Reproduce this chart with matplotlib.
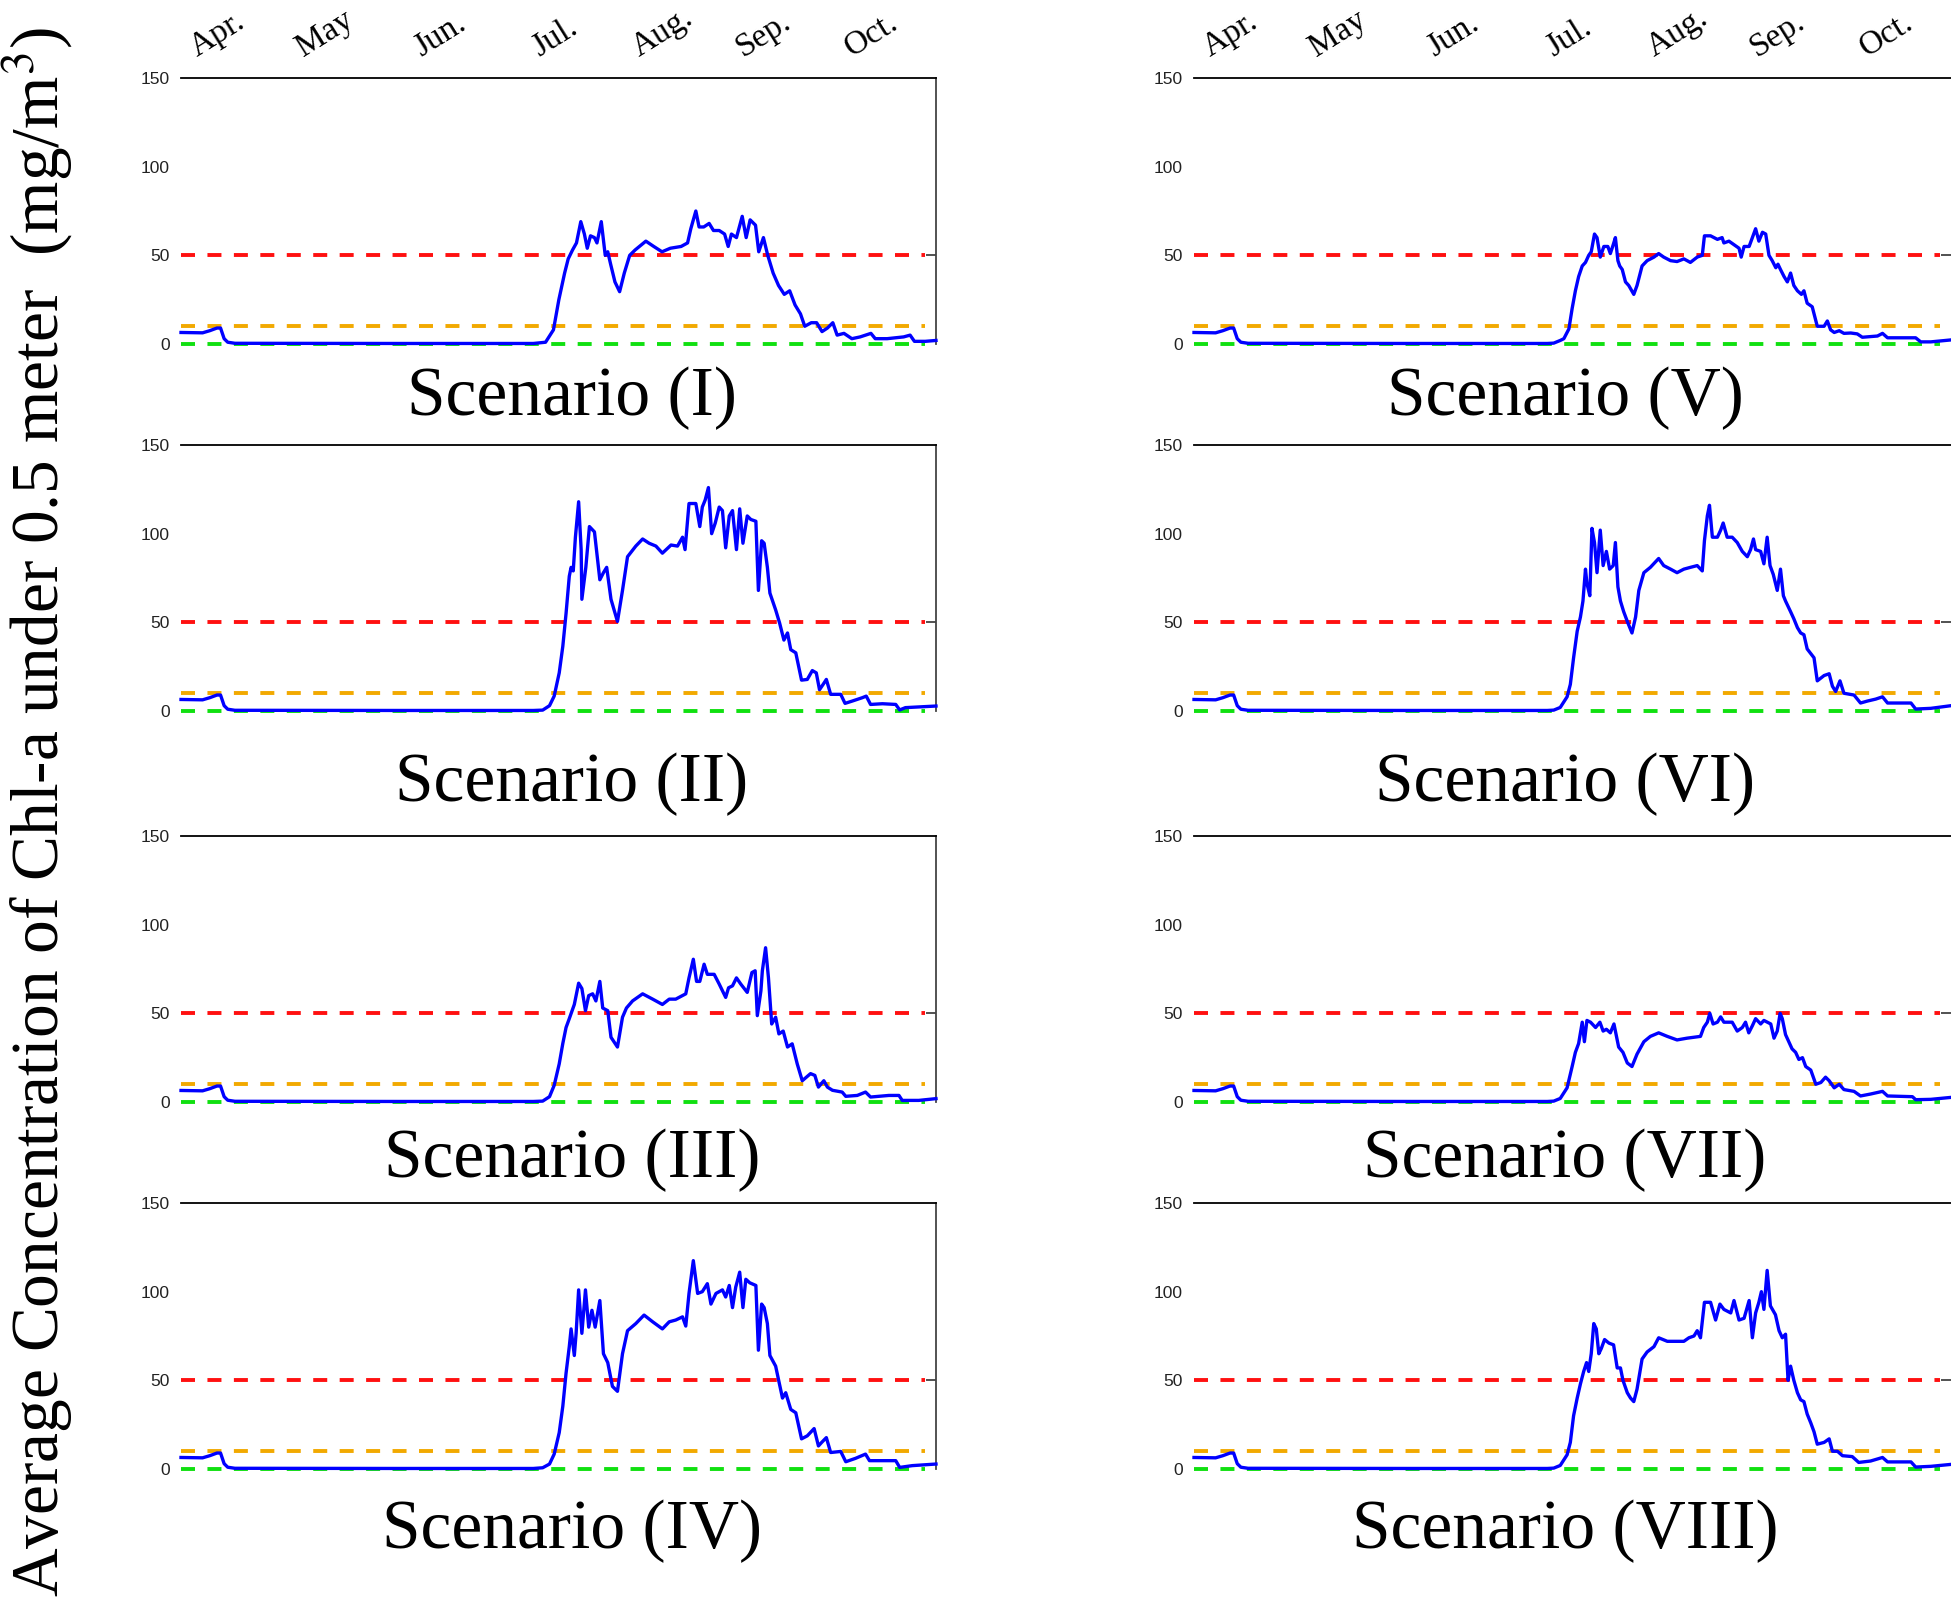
"""Chl-a under 0.5 m for eight scenarios: 4 rows x 2 columns of daily traces."""
import matplotlib
matplotlib.use("Agg")
import matplotlib.pyplot as plt

plt.rcParams["mathtext.fontset"] = "stix"

W, H = 1951, 1616
SERIF = ["Liberation Serif", "DejaVu Serif"]
NARROW = ["Liberation Sans Narrow", "Liberation Sans", "DejaVu Sans"]

months = ["Apr.", "May", "Jun.", "Jul.", "Aug.", "Sep.", "Oct."]
month_pos = [10, 40, 72, 104, 134, 162, 192]          # day index from left edge
y_ticks = [0, 50, 100, 150]
thresholds = [50, 10, 0]
threshold_colors = ["#ff1010", "#f2a900", "#10e010"]
threshold_span = [0, 207]

# spring part shared by every scenario (day, mg/m3)
early = [(0, 6.5), (6, 6.3), (8, 7.5), (10, 9.0), (11, 9.0), (12, 3.0), (13, 1.0),
         (15, 0.4), (60, 0.3), (98, 0.3)]

scen_I = [(101.4, 1), (103.6, 8), (105.1, 25), (106.7, 40), (107.7, 48), (108.9, 53),
          (110.0, 57), (111.2, 69), (112.2, 62), (113.0, 54), (113.9, 61), (115.0, 60),
          (115.7, 57), (116.9, 69), (118.0, 50), (118.7, 52), (119.5, 45), (120.7, 35),
          (122.0, 29.5), (123.3, 40), (124.8, 50), (126.3, 53), (129.3, 58), (131.5, 55),
          (133.8, 52), (136.1, 54), (139.1, 55), (140.9, 57), (141.8, 65), (143.2, 75),
          (144.1, 66), (145.4, 66), (146.9, 68), (148.1, 64), (149.7, 64), (151.2, 62),
          (152.2, 55), (153.1, 62), (154.5, 60), (156.1, 72), (157.2, 60), (158.3, 70),
          (159.8, 67), (160.7, 52), (162.0, 60), (163.2, 50), (164.7, 40), (166.2, 33),
          (167.8, 28), (169.3, 30), (170.8, 22), (172.3, 17), (173.5, 10), (175.3, 12),
          (176.8, 12), (178.3, 7), (179.8, 9), (181.3, 12), (182.5, 5), (184.4, 6),
          (186.6, 3), (188.9, 4), (191.9, 6), (193.1, 3), (196.4, 3), (201.0, 4),
          (202.8, 5), (204.0, 1.5), (207.0, 1.5), (210.0, 2)]

scen_II = [(100.6, 0.5), (102.5, 3), (103.8, 8.4), (105.2, 21.5), (106.2, 36.5), (107.1, 55),
           (108.0, 76), (108.5, 81), (109.1, 79), (109.7, 98), (110.6, 118), (111.3, 91),
           (111.5, 63), (112.6, 81), (113.6, 104), (115.0, 101), (116.5, 74), (117.5, 78),
           (118.4, 81), (119.6, 63), (121.4, 50.5), (122.8, 68), (124.2, 87), (126.5, 93),
           (128.4, 97), (130.2, 94.6), (132.1, 93), (133.9, 89), (136.3, 93.6), (138.1, 93),
           (139.5, 98), (140.2, 91), (141.3, 117), (143.2, 117), (144.3, 104), (145.0, 115),
           (145.8, 119), (146.7, 126), (147.6, 100), (148.6, 106), (149.7, 115), (150.6, 113),
           (151.5, 92), (152.5, 110), (153.4, 113), (154.5, 91), (155.4, 114), (156.3, 94.6),
           (157.5, 110), (158.5, 108), (159.9, 107), (160.6, 68), (161.5, 96), (162.2, 94.6),
           (163.1, 81), (163.8, 66.5), (165.4, 57), (166.5, 49.6), (167.7, 40), (168.7, 44),
           (169.6, 34.6), (171.0, 32.8), (172.6, 17.4), (174.2, 17.8), (175.6, 22.8),
           (176.7, 21.5), (177.6, 12), (178.6, 15), (179.5, 17.8), (180.7, 9.4), (183.5, 9.4),
           (184.7, 4.3), (186.7, 5.6), (189.5, 7.5), (190.6, 8.4), (191.8, 3.7), (195.1, 4.1),
           (198.8, 3.7), (199.9, 0.6), (201.5, 1.9), (210.0, 2.8)]

scen_III = [(100.6, 0.5), (102.5, 3), (103.8, 9.4), (105.2, 21.5), (106.2, 33), (107.1, 42),
            (108.0, 47), (109.4, 55), (110.6, 67), (111.5, 64), (112.5, 51.5), (113.4, 60),
            (114.5, 61), (115.4, 57), (116.5, 68), (117.3, 53), (118.7, 51.5), (119.6, 36.5),
            (121.4, 31), (122.8, 47.8), (123.9, 53), (125.6, 57), (128.4, 61), (131.2, 58),
            (133.9, 55), (135.8, 58), (137.6, 58), (140.4, 61), (141.3, 70), (142.5, 80.5),
            (143.4, 68), (144.3, 68), (145.5, 77.7), (146.4, 72), (148.3, 72), (149.7, 66.5),
            (151.5, 59), (152.3, 64.4), (153.4, 65.5), (154.5, 70), (155.7, 66.5), (157.5, 61.8),
            (158.8, 73), (159.7, 74), (160.3, 48.7), (161.3, 62.7), (161.7, 74), (162.6, 87),
            (163.4, 70), (164.3, 44), (165.4, 47.8), (166.3, 38.4), (167.5, 40), (168.7, 31),
            (170.0, 32.8), (171.4, 21.5), (172.8, 12), (175.1, 16), (176.3, 15), (177.3, 8.4),
            (178.8, 12), (179.8, 8.4), (181.2, 6.6), (183.9, 5.6), (184.9, 3.2), (188.1, 3.7),
            (190.4, 5.6), (191.8, 2.8), (196.9, 3.7), (199.7, 3.7), (200.6, 0.9), (205.2, 0.9),
            (210.0, 1.9)]

scen_IV = [(100.6, 0.7), (102.5, 2.8), (103.8, 8.4), (105.2, 20.5), (106.2, 35.4), (107.1, 54),
           (108.0, 69), (108.5, 79), (109.4, 64), (109.9, 76.5), (110.6, 101), (111.5, 76.5),
           (112.5, 101), (113.4, 80), (114.3, 89.5), (115.2, 80), (116.5, 95), (117.5, 65),
           (118.7, 60), (120.0, 46.6), (121.4, 43.8), (122.8, 65), (124.2, 78), (126.5, 82),
           (128.8, 86.8), (131.2, 83), (133.9, 79), (135.8, 83), (137.6, 84), (139.5, 85.8),
           (140.4, 80.6), (141.3, 99), (142.5, 117.5), (143.7, 99), (145.0, 100), (146.4, 104.5),
           (147.4, 93), (148.8, 99), (150.6, 101), (151.5, 97), (152.5, 103.5), (153.4, 91),
           (154.3, 102.6), (155.4, 111), (156.3, 91), (157.1, 107), (158.2, 105), (159.9, 103.5),
           (160.6, 67), (161.5, 93), (162.2, 91), (163.1, 82), (163.8, 64), (165.4, 58),
           (166.3, 49.4), (167.3, 40), (168.2, 43), (169.6, 33.6), (171.0, 31.7), (172.6, 17),
           (174.2, 18.7), (176.1, 22.8), (177.3, 13), (178.2, 15), (179.5, 17.7), (180.7, 9.3),
           (183.5, 9.9), (184.9, 4.1), (187.6, 6), (190.4, 8.4), (191.5, 4.7), (198.8, 4.7),
           (199.9, 0.9), (203.4, 1.9), (210.0, 2.8)]

scen_V = [(99.8, 0.5), (101.6, 2), (102.6, 3), (104.0, 8.5), (104.9, 20), (105.8, 30),
          (106.7, 38), (107.7, 44), (108.6, 46), (109.5, 50), (110.2, 52), (111.1, 62),
          (111.8, 60), (112.7, 49), (113.7, 55), (114.8, 55), (115.5, 51), (116.3, 56),
          (116.9, 60), (117.6, 47), (118.1, 44), (118.8, 42), (119.7, 35), (120.6, 33),
          (122.0, 28), (122.9, 33), (124.3, 44), (125.7, 47), (127.6, 49), (128.9, 51),
          (130.3, 49), (132.2, 47), (134.0, 46.5), (135.9, 48), (137.7, 46), (139.6, 49),
          (141.0, 50), (141.6, 61), (143.3, 61), (145.2, 59), (146.5, 60), (147.0, 57),
          (148.4, 58), (149.8, 56), (151.2, 54), (151.8, 49), (152.6, 55), (154.0, 55),
          (154.9, 60), (155.8, 65), (156.7, 58), (157.7, 63), (158.6, 62), (159.5, 50),
          (160.4, 47), (161.4, 43), (162.0, 45), (162.7, 42), (163.7, 38), (164.6, 35),
          (165.5, 40), (166.4, 33), (167.4, 30), (168.5, 28), (169.2, 30), (170.1, 23),
          (171.5, 21), (172.9, 10), (174.8, 10), (175.7, 13), (176.6, 8), (177.6, 6.5),
          (179.0, 7.5), (180.3, 6), (182.2, 6.2), (184.0, 5.7), (185.4, 3.8), (189.6, 4.5),
          (191.0, 6), (192.4, 3.5), (200.2, 3.5), (201.6, 1.2), (204.4, 1.2), (210.0, 2.3)]

scen_VI = [(99.8, 0.5), (101.6, 2), (103.5, 8), (104.4, 15), (105.3, 30), (106.3, 45),
           (107.2, 53), (107.9, 62), (108.6, 80), (109.0, 72), (109.8, 65), (110.4, 103),
           (111.1, 95), (111.8, 78), (112.7, 102), (113.5, 82), (114.4, 90), (115.3, 80),
           (116.3, 82), (116.9, 95), (117.6, 70), (118.3, 62), (119.2, 56), (120.3, 50),
           (121.5, 44), (122.5, 53), (123.4, 68), (124.8, 78), (126.6, 81), (128.9, 86),
           (130.3, 82), (132.2, 80), (134.0, 78), (135.9, 80), (137.7, 81), (139.6, 82),
           (141.0, 79), (141.6, 96), (142.4, 110), (143.0, 116), (143.8, 98), (145.2, 98),
           (146.1, 102), (146.8, 106), (147.9, 98), (149.3, 98), (150.7, 95), (152.1, 90),
           (153.5, 87), (154.4, 91), (155.2, 97), (155.8, 91), (157.2, 90), (158.1, 83),
           (159.0, 98), (159.8, 82), (160.7, 77), (161.8, 68), (162.7, 80), (163.5, 65),
           (164.1, 62), (165.5, 56), (166.4, 52), (167.4, 47), (168.3, 44), (169.2, 43),
           (170.1, 35), (172.0, 30), (172.9, 17), (174.8, 20), (176.2, 21), (177.1, 14),
           (178.0, 11), (179.2, 17), (180.3, 10), (183.1, 9), (184.9, 4.5), (186.8, 5.6),
           (189.1, 6.7), (191.0, 8), (192.4, 4.5), (198.9, 4.5), (200.2, 1.1), (204.4, 1.5),
           (210.0, 3)]

scen_VII = [(99.8, 0.5), (101.6, 2), (103.5, 8), (104.9, 20), (105.8, 28), (106.7, 33),
            (107.7, 45), (108.3, 34), (109.0, 46), (110.0, 45), (111.4, 42), (112.6, 45),
            (113.5, 40), (114.4, 41), (115.5, 39), (116.5, 44), (117.2, 37), (117.8, 31),
            (119.0, 28), (120.2, 22), (121.5, 20), (122.9, 27), (124.8, 34), (126.6, 37),
            (128.9, 39), (131.3, 37), (134.0, 35), (136.8, 36), (140.5, 37), (141.4, 42),
            (142.4, 45), (143.1, 50), (144.0, 44), (145.2, 45), (146.1, 48), (147.0, 45),
            (149.3, 45), (150.7, 40), (152.1, 42), (153.0, 45), (153.9, 39), (154.9, 43),
            (155.8, 47), (157.2, 44), (158.1, 46), (160.0, 44), (160.9, 36), (161.8, 40),
            (162.6, 50), (163.2, 47), (164.1, 38), (165.0, 34), (165.9, 30), (166.9, 28),
            (167.8, 24), (168.8, 25), (169.7, 20), (171.1, 18), (172.5, 10), (173.9, 11),
            (175.2, 14), (176.2, 12), (177.6, 8), (179.0, 10), (180.3, 7), (183.1, 6),
            (184.9, 3.4), (187.7, 4.5), (191.0, 6), (192.4, 3.4), (199.3, 3), (200.2, 1.3),
            (204.4, 1.5), (210.0, 2.6)]

scen_VIII = [(99.8, 0.5), (101.6, 2), (103.5, 8), (104.4, 15), (105.3, 30), (106.3, 40),
             (107.2, 48), (108.1, 55), (108.9, 60), (109.5, 55), (110.2, 65), (110.9, 82),
             (111.6, 79), (112.3, 65), (113.0, 68), (113.9, 73), (115.1, 71), (116.4, 70),
             (117.4, 57), (118.3, 57), (119.0, 50), (120.2, 43), (121.1, 40), (122.0, 38),
             (122.9, 45), (124.3, 62), (125.7, 66), (127.6, 69), (128.9, 74), (131.3, 72),
             (134.0, 72), (135.9, 72), (137.3, 74), (138.7, 75), (139.6, 78), (140.5, 74),
             (141.6, 94), (143.3, 94), (144.7, 84), (145.9, 93), (147.0, 90), (148.9, 88),
             (149.8, 95), (151.2, 84), (152.6, 85), (154.0, 95), (154.9, 74), (155.8, 88),
             (156.7, 94), (157.4, 100), (158.1, 90), (159.0, 112), (159.9, 92), (161.3, 87),
             (162.3, 78), (163.2, 74), (164.1, 76), (164.8, 50), (165.5, 58), (166.4, 50),
             (167.4, 43), (168.3, 39), (169.2, 38), (170.1, 31), (171.1, 26), (172.0, 21),
             (172.9, 14), (174.8, 15), (176.2, 17), (177.1, 10), (178.5, 10), (179.9, 7.5),
             (182.6, 7), (184.4, 3.7), (187.7, 4.5), (191.0, 6.5), (192.4, 4), (198.9, 4),
             (200.2, 1.1), (204.4, 1.5), (210.0, 2.6)]

titles = ["Scenario (I)", "Scenario (II)", "Scenario (III)", "Scenario (IV)",
          "Scenario (V)", "Scenario (VI)", "Scenario (VII)", "Scenario (VIII)"]
series = [scen_I, scen_II, scen_III, scen_IV, scen_V, scen_VI, scen_VII, scen_VIII]

# layout in output pixels
col_left = [181, 1194]
col_width = [755, 757]
row_top = [78, 445, 836, 1203]
row_h = 266
title_x = [572, 1565]
title_y = [398, 784, 1160, 1531]


def draw_panel(ax, pts, col, row):
    x, y = zip(*(early + pts))
    for lvl, c in zip(thresholds, threshold_colors):
        ax.plot(threshold_span, [lvl, lvl], color=c, lw=2.8, dashes=(3.6, 3.2),
                clip_on=False, zorder=2)
    ax.plot(x, y, color="#0000ff", lw=2.4, clip_on=False, zorder=3)
    ax.set_xlim(0, 210)
    ax.set_ylim(0, 150)
    ax.set_yticks(y_ticks)
    ax.set_yticklabels([str(v) for v in y_ticks], family=NARROW, fontsize=12.5, color="#222222")
    ax.tick_params(axis="y", length=0, pad=8)
    for s in ("left", "bottom"):
        ax.spines[s].set_visible(False)
    ax.spines["top"].set_linewidth(1.3)
    ax.spines["right"].set_linewidth(1.3)
    ax.spines["right"].set_color("#444444")
    if col == 1:
        ax.spines["right"].set_visible(False)
    sec = ax.secondary_yaxis("right")
    sec.set_yticks([50])
    sec.set_yticklabels([])
    sec.tick_params(direction="in", length=7, width=1.2, colors="#333333")
    sec.spines["right"].set_visible(False)
    if row == 0:
        ax.xaxis.tick_top()
        ax.set_xticks(month_pos)
        ax.set_xticklabels(months, rotation=32, family=SERIF, fontsize=24)
        ax.tick_params(axis="x", length=0, pad=11)
    else:
        ax.set_xticks([])


fig = plt.figure(figsize=(W / 100, H / 100), dpi=100)
for k, (name, pts) in enumerate(zip(titles, series)):
    col, row = divmod(k, 4)
    l, w = col_left[col], col_width[col]
    t = row_top[row]
    ax = fig.add_axes([l / W, 1 - (t + row_h) / H, w / W, row_h / H])
    draw_panel(ax, pts, col, row)
    fig.text(title_x[col] / W, 1 - title_y[row] / H, name, ha="center", va="center",
             family=SERIF, fontsize=50)

fig.text(38 / W, 1 - 812 / H, "Average Concentration of Chl-a under 0.5 meter  (mg/m$^3$)",
         rotation=90, ha="center", va="center", family=SERIF, fontsize=48.5)

fig.savefig("out.png", dpi=100)
